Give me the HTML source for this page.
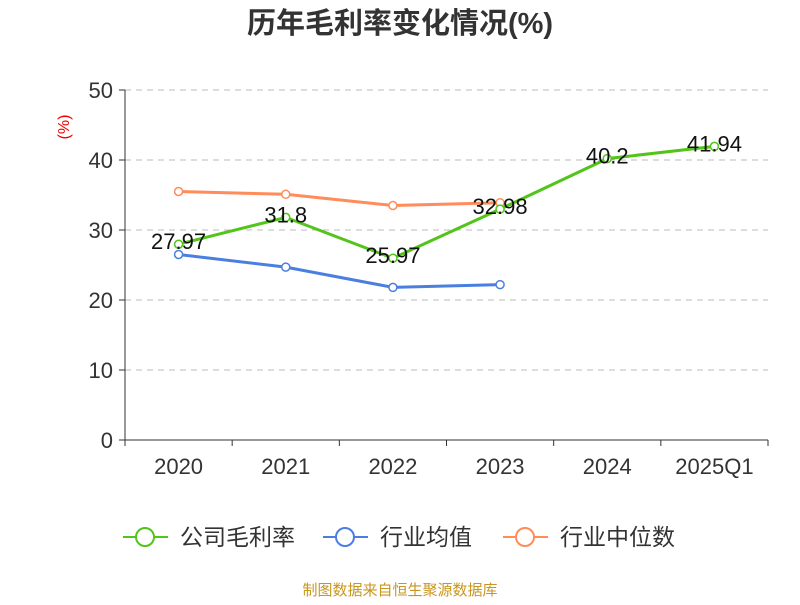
<!DOCTYPE html>
<html><head><meta charset="utf-8"><style>
body{margin:0;background:#fff;}
svg text{font-family:"Liberation Sans","Noto Sans CJK SC",sans-serif;}
</style></head><body>
<svg id="c" width="800" height="600">
<text x="400" y="33" text-anchor="middle" font-size="29" font-weight="bold" fill="#333">历年毛利率变化情况(%)</text>
<text x="69" y="127" text-anchor="middle" font-size="16" fill="#e00" transform="rotate(-90 69 127)">(%)</text>
<g id="grid"></g><g id="series"></g>
<g>
<g><line x1="123" y1="537" x2="168" y2="537" stroke="#52c41a" stroke-width="2"/><circle cx="145" cy="537" r="9" fill="#fff" stroke="#52c41a" stroke-width="2"/><text x="180" y="545" font-size="23" fill="#333">公司毛利率</text></g>
<g><line x1="323" y1="537" x2="368" y2="537" stroke="#4a7fe0" stroke-width="2"/><circle cx="345" cy="537" r="9" fill="#fff" stroke="#4a7fe0" stroke-width="2"/><text x="380" y="545" font-size="23" fill="#333">行业均值</text></g>
<g><line x1="503" y1="537" x2="548" y2="537" stroke="#ff8c5a" stroke-width="2"/><circle cx="525" cy="537" r="9" fill="#fff" stroke="#ff8c5a" stroke-width="2"/><text x="560" y="545" font-size="23" fill="#333">行业中位数</text></g>
</g>
<text x="400" y="595" text-anchor="middle" font-size="15" fill="#c8961e">制图数据来自恒生聚源数据库</text>
</svg>
<script>
const categories=["2020","2021","2022","2023","2024","2025Q1"];
const company=[27.97,31.8,25.97,32.98,40.2,41.94];
const industryAvg=[26.5,24.7,21.8,22.2];
const industryMedian=[35.5,35.1,33.5,33.9];
const yTicks=[0,10,20,30,40,50];
const NS="http://www.w3.org/2000/svg";
const x0=125,x1=768,yTop=90,yBot=440,yMax=50;
const bw=(x1-x0)/categories.length;
const xs=i=>x0+bw*(i+0.5);
const ys=v=>yBot-(v/yMax)*(yBot-yTop);
function mk(t,a,p){const e=document.createElementNS(NS,t);for(const k in a)e.setAttribute(k,a[k]);p.appendChild(e);return e;}
const g=document.getElementById('grid'),s=document.getElementById('series');
yTicks.forEach(v=>{
 if(v>0){const l=mk('line',{x1:x0,x2:x1,y1:ys(v),y2:ys(v),stroke:'#bbb','stroke-dasharray':'6,5'},g);
 }
 mk('line',{x1:x0-6,x2:x0,y1:ys(v),y2:ys(v),stroke:'#333'},g);
 const t=mk('text',{x:x0-12,y:ys(v)+8,'text-anchor':'end','font-size':'22',fill:'#333'},g);t.textContent=v;
 
});
mk('line',{x1:x0,x2:x0,y1:yTop,y2:yBot,stroke:'#333'},g);
mk('line',{x1:x0,x2:x1,y1:yBot,y2:yBot,stroke:'#333'},g);
for(let i=0;i<=categories.length;i++)mk('line',{x1:x0+bw*i,x2:x0+bw*i,y1:yBot,y2:yBot+6,stroke:'#333'},g);
categories.forEach((c,i)=>{const t=mk('text',{x:xs(i),y:yBot+34,'text-anchor':'middle','font-size':'22',fill:'#333'},g);t.textContent=c;
 });
function series(data,color,name,labels){
 const p=mk('polyline',{points:data.map((v,i)=>xs(i)+','+ys(v)).join(' '),fill:'none',stroke:color,'stroke-width':3},s);
 
 data.forEach((v,i)=>{const c=mk('circle',{cx:xs(i),cy:ys(v),r:4,fill:'#fff',stroke:color,'stroke-width':1.5},s);
  
  if(labels){const t=mk('text',{x:xs(i),y:ys(v)+5,'text-anchor':'middle','font-size':'22',fill:'#111'},s);t.textContent=v;
   }});
}
series(industryMedian,'#ff8c5a','industry-median',false);
series(industryAvg,'#4a7fe0','industry-avg',false);
series(company,'#52c41a','company',true);
</script>
</body></html>
